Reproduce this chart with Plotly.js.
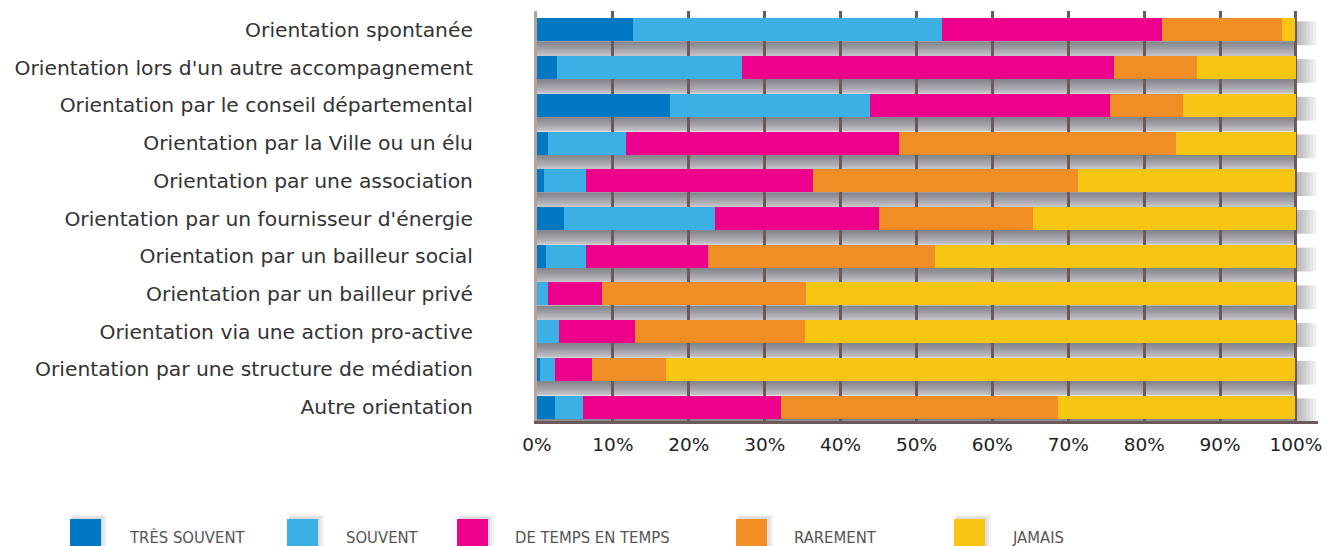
<!DOCTYPE html>
<html>
<head>
<meta charset="utf-8">
<script src="https://cdn.plot.ly/plotly-3.0.1.min.js"></script>
<style>
  html, body { margin: 0; padding: 0; background: #ffffff; }
  #chart { width: 1329px; height: 546px; }
</style>
</head>
<body>
<div id="chart"></div>
<script>
// ---- Data ----
var categories = [
  "Orientation spontanée",
  "Orientation lors d'un autre accompagnement",
  "Orientation par le conseil départemental",
  "Orientation par la Ville ou un élu",
  "Orientation par une association",
  "Orientation par un fournisseur d'énergie",
  "Orientation par un bailleur social",
  "Orientation par un bailleur privé",
  "Orientation via une action pro-active",
  "Orientation par une structure de médiation",
  "Autre orientation"
];
var seriesNames = ["TRÈS SOUVENT", "SOUVENT", "DE TEMPS EN TEMPS", "RAREMENT", "JAMAIS"];
var tresSouvent   = [12.6,  2.6, 17.5,  1.4,  0.9,  3.6,  1.2,  0.0,  0.0,  0.4,  2.4];
var souvent       = [40.7, 24.4, 26.4, 10.3,  5.5, 19.9,  5.3,  1.4,  2.9,  2.0,  3.6];
var deTempsEnTemps= [29.1, 49.0, 31.6, 36.0, 29.9, 21.5, 16.0,  7.1, 10.0,  4.9, 26.1];
var rarement      = [15.7, 11.0,  9.6, 36.5, 35.0, 20.3, 29.9, 26.9, 22.4,  9.7, 36.6];
var jamais        = [ 1.8, 13.0, 14.9, 15.8, 28.6, 34.7, 47.6, 64.6, 64.7, 82.9, 31.2];
var tickValues = [0, 10, 20, 30, 40, 50, 60, 70, 80, 90, 100];
var tickLabels = ["0%", "10%", "20%", "30%", "40%", "50%", "60%", "70%", "80%", "90%", "100%"];

// ---- Styling ----
var colors = ["#0079c2", "#3cb0e4", "#ec008c", "#f18d25", "#f7c614"];
var allSeries = [tresSouvent, souvent, deTempsEnTemps, rarement, jamais];
var BAR_W = 0.61;
var HALF = BAR_W / 2;

var traces = allSeries.map(function (vals, k) {
  return {
    type: "bar",
    orientation: "h",
    name: seriesNames[k],
    y: categories,
    x: vals,
    width: BAR_W,
    marker: { color: colors[k], line: { width: 0 } },
    hoverinfo: "x+y+name",
    showlegend: false
  };
});

// Plot geometry (pixels) used only for decorations
var L = 537, T = 11, W = 781, H = 410;
function px2paperX(px) { return (px - L) / W; }
function px2paperY(py) { return (T + H - py) / H; }

var shapes = [];
// gray bands between bars with a soft shadow gradient
for (var i = 0; i < categories.length; i++) {
  var y0 = i + HALF;
  var y1 = (i === categories.length - 1) ? 10.6 : i + 1 - HALF;
  shapes.push({ type: "rect", layer: "below", xref: "x", yref: "y",
    x0: 0, x1: 100, y0: y0, y1: y1, fillcolor: "#d0d0d4", line: { width: 0 } });
  var gap = y1 - y0;
  var steps = 8;
  for (var s = 0; s < steps; s++) {
    shapes.push({ type: "rect", layer: "below", xref: "x", yref: "y",
      x0: 0, x1: 100, y0: y0, y1: y0 + gap * (s + 1) / steps,
      fillcolor: "#4a4a52", opacity: 0.085, line: { width: 0 } });
  }
  // right-edge shadow
  for (var r = 0; r < 6; r++) {
    shapes.push({ type: "rect", layer: "below", xref: "x", yref: "y",
      x0: 100, x1: 100 + 0.45 * (r + 1), y0: i - HALF + 0.08, y1: i + HALF + 0.1,
      fillcolor: "#606068", opacity: 0.09, line: { width: 0 } });
  }
}
// lighten gridlines above the first bar
shapes.push({ type: "rect", layer: "between", xref: "paper", yref: "y",
  x0: 0, x1: 1, y0: -0.5, y1: -HALF, fillcolor: "#ffffff", opacity: 0.5, line: { width: 0 } });

// custom legend (tall swatches)
var legendSwatchPx = [70, 287, 457, 736, 954];
var legendTextPx = [127, 344, 513, 792, 1010];
var annotations = [];
for (var k = 0; k < seriesNames.length; k++) {
  // swatch shadow
  for (var g = 0; g < 3; g++) {
    shapes.push({ type: "rect", layer: "above", xref: "paper", yref: "paper",
      x0: px2paperX(legendSwatchPx[k] + 2), x1: px2paperX(legendSwatchPx[k] + 33 + 2 * g),
      y0: px2paperY(548), y1: px2paperY(517 - g), fillcolor: "#9a9aa0", opacity: 0.12, line: { width: 0 } });
  }
  shapes.push({ type: "rect", layer: "above", xref: "paper", yref: "paper",
    x0: px2paperX(legendSwatchPx[k]), x1: px2paperX(legendSwatchPx[k] + 31),
    y0: px2paperY(548), y1: px2paperY(519), fillcolor: colors[k], line: { width: 0 } });
  annotations.push({
    xref: "paper", yref: "paper", x: px2paperX(legendTextPx[k]), y: px2paperY(537),
    xanchor: "left", yanchor: "middle", showarrow: false, text: seriesNames[k],
    font: { family: "DejaVu Sans Condensed, DejaVu Sans, sans-serif", size: 16.5, color: "#555555" }
  });
}

var layout = {
  width: 1329, height: 546,
  margin: { l: L, r: 1329 - L - W, t: T, b: 546 - T - H, pad: 0 },
  paper_bgcolor: "#ffffff",
  plot_bgcolor: "rgba(0,0,0,0)",
  barmode: "stack",
  bargap: 0.39,
  showlegend: false,
  font: { family: "DejaVu Sans, sans-serif", color: "#333333" },
  xaxis: {
    range: [0, 102.9],
    tickmode: "array",
    tickvals: tickValues,
    ticktext: tickLabels,
    showgrid: true,
    gridcolor: "#6b5a57",
    gridwidth: 3,
    zeroline: false,
    showline: true,
    linecolor: "#6b5a57",
    linewidth: 3,
    ticks: "",
    tickfont: { family: "DejaVu Sans, sans-serif", size: 18.5, color: "#222222" },
    ticklabelstandoff: 5,
    fixedrange: true
  },
  yaxis: {
    type: "category",
    categoryorder: "array",
    categoryarray: categories,
    range: [10.37, -0.5],
    showgrid: false,
    zeroline: false,
    showline: true,
    linecolor: "#b3a19d",
    linewidth: 3,
    ticks: "",
    ticklabelstandoff: 57,
    tickfont: { family: "DejaVu Sans, sans-serif", size: 20.3, color: "#333333" },
    fixedrange: true
  },
  shapes: shapes,
  annotations: annotations
};

Plotly.newPlot("chart", traces, layout, { displayModeBar: false, staticPlot: true });
</script>
</body>
</html>
